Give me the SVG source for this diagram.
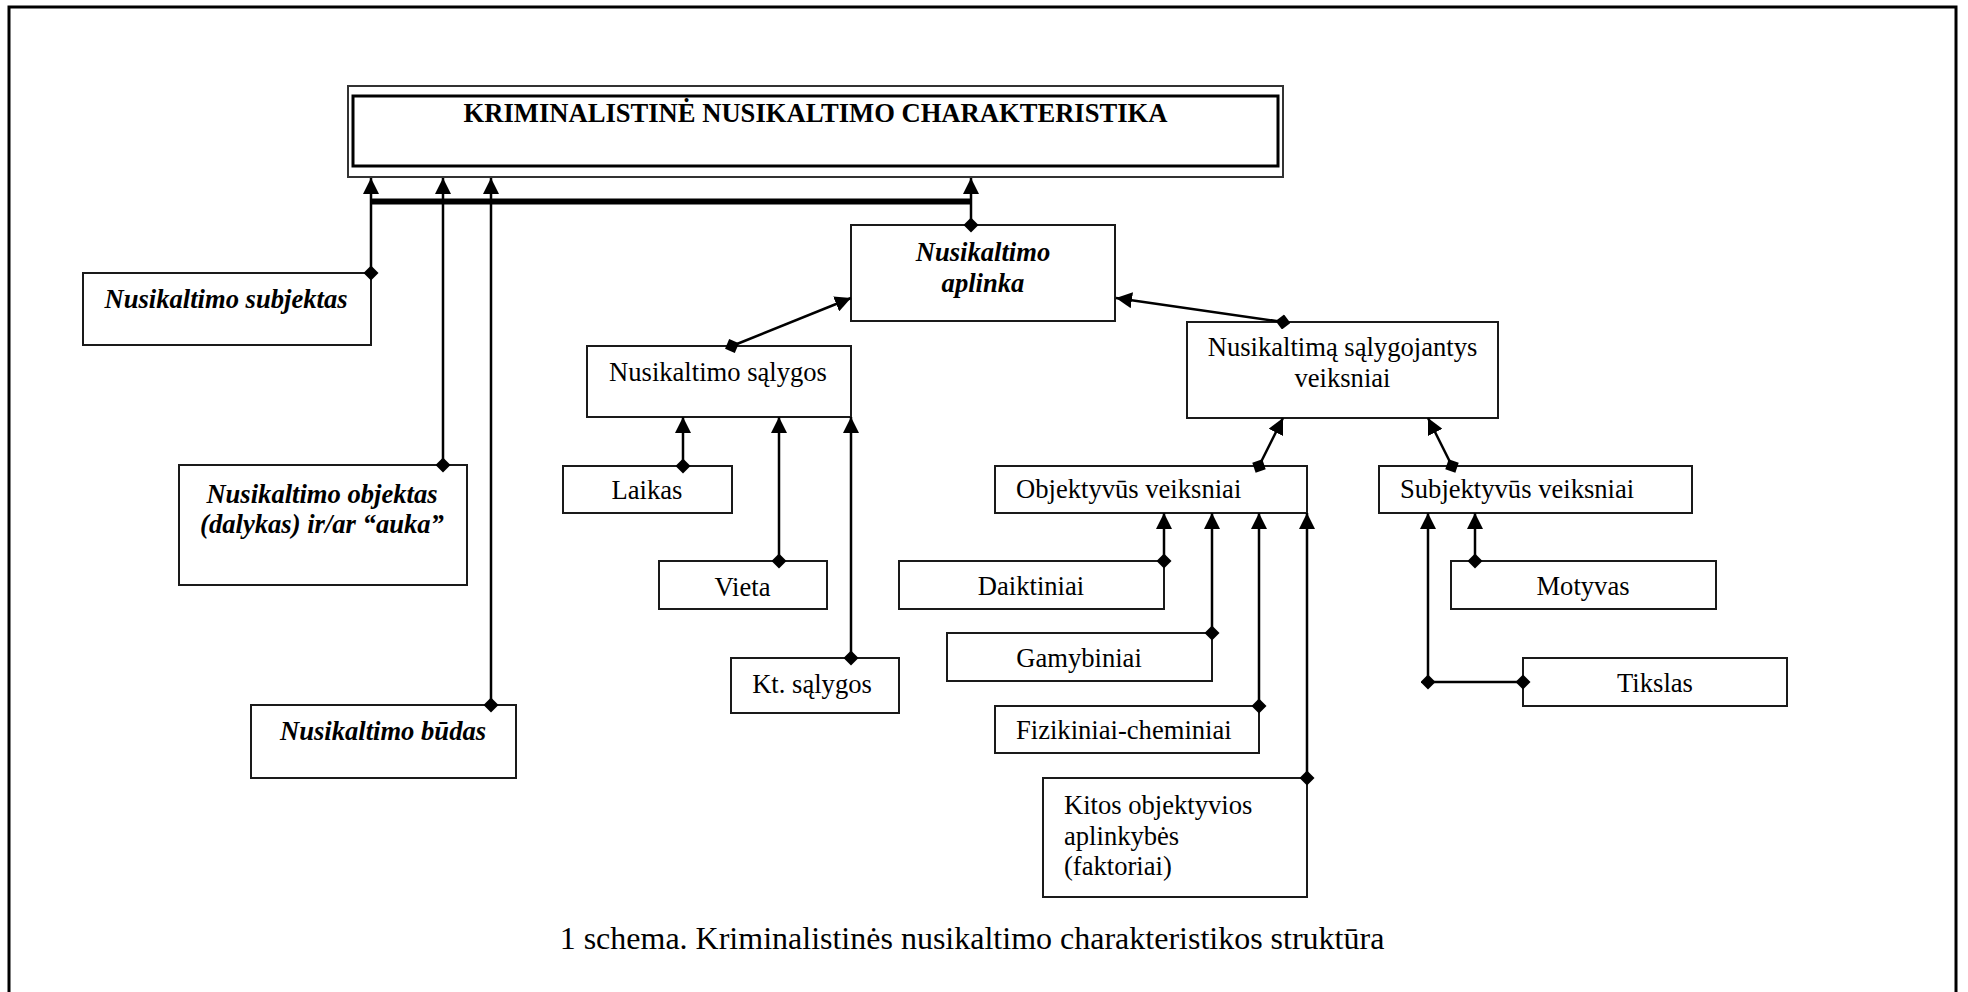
<svg xmlns="http://www.w3.org/2000/svg" width="1968" height="992" viewBox="0 0 1968 992">
<style>
.box{fill:#fff;stroke:#1a1a1a;stroke-width:2}
.t{font-family:"Liberation Serif","Times New Roman",serif;font-size:26.6px;fill:#000}
.bi{font-weight:bold;font-style:italic}
.b{font-weight:bold}
.c{text-anchor:middle}
.ln{fill:none;stroke:#000;stroke-width:2.5}
.ds{marker-start:url(#dia)}
.ae{marker-end:url(#arr)}
</style>
<defs>
<marker id="arr" viewBox="0 0 16 16" refX="16" refY="8" markerWidth="16" markerHeight="16" markerUnits="userSpaceOnUse" orient="auto"><path d="M0,0 L16,8 L0,16 z" fill="#000"/></marker>
<marker id="dia" viewBox="0 0 15 15" refX="7.5" refY="7.5" markerWidth="15" markerHeight="15" markerUnits="userSpaceOnUse" orient="auto"><path d="M0,7.5 L7.5,0 L15,7.5 L7.5,15 z" fill="#000"/></marker>
<marker id="dia0" viewBox="0 0 15 15" refX="7.5" refY="7.5" markerWidth="15" markerHeight="15" markerUnits="userSpaceOnUse" orient="0"><path d="M0,7.5 L7.5,0 L15,7.5 L7.5,15 z" fill="#000"/></marker>
</defs>
<rect x="0" y="0" width="1968" height="992" fill="#fff"/>
<rect x="9" y="7" width="1947" height="995" fill="none" stroke="#000" stroke-width="3"/>

<g id="title">
<rect x="348" y="86" width="935" height="91" fill="#fff" stroke="#333" stroke-width="2"/>
<rect x="353" y="96" width="925" height="70" fill="none" stroke="#000" stroke-width="3"/>
<text class="t b c" x="815.5" y="122">KRIMINALISTINĖ NUSIKALTIMO CHARAKTERISTIKA</text>
</g>

<g id="subjektas">
<rect class="box" x="83" y="273" width="288" height="72"/>
<text class="t bi c" x="226" y="308">Nusikaltimo subjektas</text>
</g>
<g id="objektas">
<rect class="box" x="179" y="465" width="288" height="120"/>
<text class="t bi c" x="322" y="503">Nusikaltimo objektas</text>
<text class="t bi c" x="322" y="533">(dalykas) ir/ar “auka”</text>
</g>
<g id="budas">
<rect class="box" x="251" y="705" width="265" height="73"/>
<text class="t bi c" x="383" y="740">Nusikaltimo būdas</text>
</g>

<g id="aplinka">
<rect class="box" x="851" y="225" width="264" height="96"/>
<text class="t bi c" x="983" y="261">Nusikaltimo</text>
<text class="t bi c" x="983" y="292">aplinka</text>
</g>

<g id="salygos">
<rect class="box" x="587" y="346" width="264" height="71"/>
<text class="t c" x="718" y="381">Nusikaltimo sąlygos</text>
</g>
<g id="laikas">
<rect class="box" x="563" y="466" width="169" height="47"/>
<text class="t c" x="647" y="499">Laikas</text>
</g>
<g id="vieta">
<rect class="box" x="659" y="561" width="168" height="48"/>
<text class="t c" x="742.5" y="596">Vieta</text>
</g>
<g id="kt-salygos">
<rect class="box" x="731" y="658" width="168" height="55"/>
<text class="t c" x="812" y="693">Kt. sąlygos</text>
</g>

<g id="veiksniai">
<rect class="box" x="1187" y="322" width="311" height="96"/>
<text class="t c" x="1342.5" y="356">Nusikaltimą sąlygojantys</text>
<text class="t c" x="1342.5" y="387">veiksniai</text>
</g>
<g id="objektyvus">
<rect class="box" x="995" y="466" width="312" height="47"/>
<text class="t" x="1016" y="498">Objektyvūs veiksniai</text>
</g>
<g id="subjektyvus">
<rect class="box" x="1379" y="466" width="313" height="47"/>
<text class="t" x="1400" y="498">Subjektyvūs veiksniai</text>
</g>
<g id="daiktiniai">
<rect class="box" x="899" y="561" width="265" height="48"/>
<text class="t c" x="1031" y="595">Daiktiniai</text>
</g>
<g id="gamybiniai">
<rect class="box" x="947" y="633" width="265" height="48"/>
<text class="t c" x="1079" y="667">Gamybiniai</text>
</g>
<g id="fizikiniai">
<rect class="box" x="995" y="706" width="264" height="47"/>
<text class="t" x="1016" y="739">Fizikiniai-cheminiai</text>
</g>
<g id="kitos">
<rect class="box" x="1043" y="778" width="264" height="119"/>
<text class="t" x="1064" y="814">Kitos objektyvios</text>
<text class="t" x="1064" y="845">aplinkybės</text>
<text class="t" x="1064" y="875">(faktoriai)</text>
</g>
<g id="motyvas">
<rect class="box" x="1451" y="561" width="265" height="48"/>
<text class="t c" x="1583" y="595">Motyvas</text>
</g>
<g id="tikslas">
<rect class="box" x="1523" y="658" width="264" height="48"/>
<text class="t c" x="1655" y="692">Tikslas</text>
</g>

<g id="connectors">
<path class="ln ds ae" d="M371,273 L371,178"/>
<path class="ln ds ae" d="M443,465 L443,178"/>
<path class="ln ds ae" d="M491,705 L491,178"/>
<path class="ln ds ae" d="M971,225 L971,178"/>
<path d="M371,201.5 L971,201.5" stroke="#000" stroke-width="6" fill="none"/>
<path class="ln ds ae" d="M732,346 L851,298"/>
<path class="ln ds ae" d="M683,466 L683,417"/>
<path class="ln ds ae" d="M779,561 L779,417"/>
<path class="ln ds ae" d="M851,658 L851,417"/>
<path class="ln ds ae" d="M1283,322 L1116,298"/>
<path class="ln ds ae" d="M1259,466 L1283,418"/>
<path class="ln ds ae" d="M1452,466 L1428,418"/>
<path class="ln ds ae" d="M1164,561 L1164,513"/>
<path class="ln ds ae" d="M1212,633 L1212,513"/>
<path class="ln ds ae" d="M1259,706 L1259,513"/>
<path class="ln ds ae" d="M1307,778 L1307,513"/>
<path class="ln ds ae" d="M1475,561 L1475,513"/>
<path class="ln ds ae" d="M1523,682 L1428,682 L1428,513" style="marker-mid:url(#dia0)"/>
</g>

<text class="t c" x="972" y="949" style="font-size:32px">1 schema. Kriminalistinės nusikaltimo charakteristikos struktūra</text>
</svg>
